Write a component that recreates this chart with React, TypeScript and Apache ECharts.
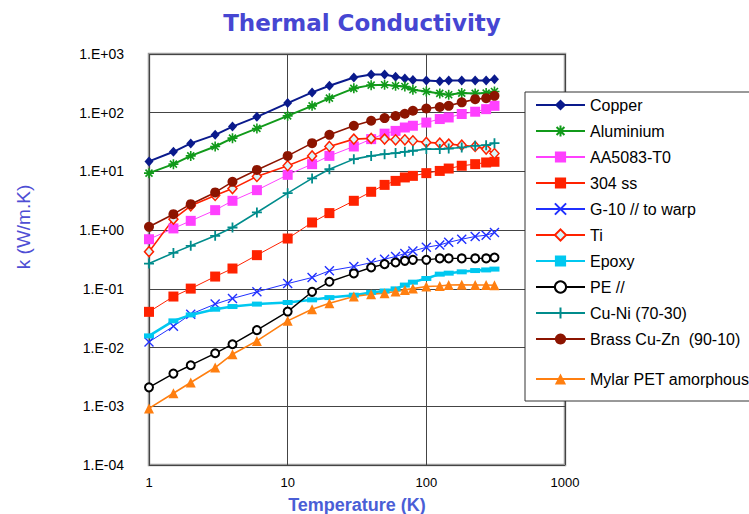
import React, { useEffect, useRef } from "react";
import * as echarts from "echarts";

const TEMPS = [1, 1.5, 2, 3, 4, 6, 10, 15, 20, 30, 40, 50, 60, 70, 80, 100, 125, 145, 180, 225, 270, 310];

const COPPER = [14.8, 21.6, 30, 42, 58, 85, 146, 222, 288, 398, 449, 449, 410, 384, 362, 355, 345, 355, 355, 355, 355, 372];
const ALUMINIUM = [9.35, 13.3, 18.4, 26.6, 36.9, 54, 88.5, 131, 177, 260, 295, 299, 288, 280, 246, 230, 213, 202, 216, 213, 216, 230];
const AA5083 = [0.7, 1.07, 1.44, 2.19, 3.16, 4.8, 8.75, 13.3, 18.4, 26.6, 35.5, 44, 49, 56, 60, 68, 78, 83, 95, 104, 115, 131];
const SS304 = [0.0406, 0.074, 0.101, 0.162, 0.222, 0.375, 0.72, 1.35, 1.95, 3.16, 4.5, 5.9, 6.9, 7.9, 8.4, 9.35, 10.2, 11.2, 12.5, 13.3, 14.2, 14.6];
const G10 = [0.0125, 0.023, 0.037, 0.055, 0.0686, 0.089, 0.123, 0.156, 0.203, 0.24, 0.28, 0.32, 0.356, 0.4, 0.44, 0.51, 0.56, 0.62, 0.7, 0.78, 0.82, 0.91];
const TI = [0.43, 1.54, 2.6, 3.9, 5.1, 8.2, 12.5, 18.4, 26.6, 35.5, 36.5, 35.5, 34.6, 34.6, 33.3, 31.2, 30.3, 29.2, 28, 26.6, 24, 20.2];
const EPOXY = [0.0158, 0.0285, 0.036, 0.045, 0.05, 0.055, 0.0586, 0.065, 0.071, 0.078, 0.087, 0.092, 0.1, 0.116, 0.13, 0.15, 0.178, 0.185, 0.195, 0.205, 0.21, 0.217];
const PE = [0.0021, 0.0036, 0.005, 0.008, 0.0114, 0.0198, 0.041, 0.089, 0.132, 0.183, 0.231, 0.264, 0.281, 0.3, 0.312, 0.312, 0.33, 0.33, 0.33, 0.33, 0.33, 0.342];
const CUNI = [0.27, 0.41, 0.54, 0.8, 1.11, 2.0, 4.27, 7.6, 10.9, 16.2, 18.4, 19.7, 20.5, 21.6, 22.5, 24, 24, 24.6, 25.6, 27.3, 28, 30.3];
const BRASS = [1.14, 1.87, 2.77, 4.39, 6.65, 10.6, 18.4, 30.3, 42, 60, 73, 81, 88, 96, 108, 118, 125, 131, 150, 170, 177, 194];
const MYLAR = [0.00092, 0.00167, 0.00254, 0.00457, 0.0077, 0.013, 0.0285, 0.045, 0.057, 0.074, 0.081, 0.0845, 0.09, 0.096, 0.101, 0.11, 0.112, 0.116, 0.117, 0.116, 0.116, 0.115];

const X_TICKS = ["1", "10", "100", "1000"];

const ASTERISK = "path://M5,0L5,10M0,5L10,5M1.5,1.5L8.5,8.5M1.5,8.5L8.5,1.5";
const CROSS = "path://M0,0L10,10M0,10L10,0";
const PLUS = "path://M5,0L5,10M0,5L10,5";

const pairs = (vals: number[]) => TEMPS.map((t, i) => [t, vals[i]]);

export default function App() {
  const ref = useRef<HTMLDivElement>(null);
  useEffect(() => {
    if (!ref.current) return;
    const chart = echarts.init(ref.current, undefined, { renderer: "svg" });
    const font = "Liberation Sans";
    const mk = (
      name: string,
      vals: number[],
      color: string,
      symbol: string,
      size: number | number[],
      lw: number,
      item: any = {}
    ) => ({
      name,
      type: "line",
      data: pairs(vals),
      symbol,
      symbolSize: size,
      showSymbol: true,
      lineStyle: { color, width: lw },
      itemStyle: { color, ...item },
      emphasis: { disabled: true },
    });
    const series = [
      mk("Copper", COPPER, "#0a1a8c", "diamond", [9, 10], 2),
      mk("Aluminium", ALUMINIUM, "#119a1a", ASTERISK, 10, 2, { color: "#119a1a", borderColor: "#119a1a", borderWidth: 1.6 }),
      mk("AA5083-T0", AA5083, "#ff40ff", "rect", 10, 1),
      mk("304 ss", SS304, "#ff2200", "rect", 10, 1),
      mk("G-10 // to warp", G10, "#2030ff", CROSS, 9, 1, { color: "#2030ff", borderColor: "#2030ff", borderWidth: 1.4 }),
      mk("Ti", TI, "#ff2200", "diamond", [9, 10], 1.6, { color: "#d8f6fa", borderColor: "#ff2200", borderWidth: 1.5 }),
      mk("Epoxy", EPOXY, "#00c8f0", "rect", [10, 5], 2.5),
      mk("PE //", PE, "#000000", "emptyCircle", 8, 1.4, { borderWidth: 1.4 }),
      mk("Cu-Ni (70-30)", CUNI, "#008c8c", PLUS, 10, 1.6, { color: "#008c8c", borderColor: "#008c8c", borderWidth: 1.8 }),
      mk("Brass Cu-Zn  (90-10)", BRASS, "#8c1400", "circle", 10, 1.6),
      mk("Mylar PET amorphous", MYLAR, "#ff7f10", "triangle", 10, 1.6),
    ];
    const legendBase = {
      orient: "vertical",
      left: 535,
      padding: 0,
      itemWidth: 49,
      itemHeight: 14,
      itemGap: 10,
      z: 20,
      textStyle: { fontFamily: font, fontSize: 16, color: "#000" },
    };
    const option: any = {
      animation: false,
      backgroundColor: "#fff",
      title: {
        text: "Thermal Conductivity",
        left: 357,
        textAlign: "center",
        top: 6,
        textStyle: { fontFamily: "DejaVu Sans", fontWeight: "bold", fontSize: 23, color: "#4646d2" },
      },
      grid: {
        left: 149,
        top: 54,
        right: 184,
        bottom: 49,
        containLabel: false,
        outerBoundsMode: "none",
        show: true,
        borderColor: "#9a9a9a",
        borderWidth: 2.5,
        backgroundColor: "transparent",
      },
      legend: [
        { ...legendBase, top: 97, data: series.slice(0, 10).map((s) => s.name) },
        { ...legendBase, top: 371, data: [series[10].name] },
      ],
      graphic: [
        {
          type: "rect",
          z: 10,
          shape: { x: 525, y: 92, width: 260, height: 309 },
          style: { fill: "#fff", stroke: "#333", lineWidth: 1 },
        },
        {
          type: "text",
          z: 10,
          x: 23,
          y: 227,
          rotation: Math.PI / 2,
          style: {
            text: "k (W/m.K)",
            fontFamily: font,
            fontSize: 19,
            fill: "#4e4ed4",
            align: "center",
            verticalAlign: "middle",
          },
        },
      ],
      xAxis: {
        type: "log",
        logBase: 10,
        min: 1,
        max: 1000,
        name: "Temperature (K)",
        nameLocation: "middle",
        nameGap: 31,
        nameTextStyle: { fontFamily: font, fontWeight: "bold", fontSize: 18, color: "#4a5ed6" },
        axisLine: { show: false },
        axisTick: { show: false },
        axisLabel: {
          fontFamily: font,
          fontSize: 13,
          color: "#000",
          margin: 11,
          formatter: (v: number) => X_TICKS[Math.round(Math.log10(v))] ?? "",
        },
        splitLine: { show: true, lineStyle: { color: "#444", width: 1 } },
      },
      yAxis: {
        type: "log",
        logBase: 10,
        min: 0.0001,
        max: 1000,
        splitNumber: 7,
        axisLine: { show: false },
        axisTick: { show: false },
        axisLabel: {
          fontFamily: font,
          fontSize: 14,
          color: "#000",
          margin: 25,
          formatter: (v: number) => {
            const e = Math.round(Math.log10(v));
            return "1.E" + (e >= 0 ? "+" : "-") + String(Math.abs(e)).padStart(2, "0");
          },
        },
        splitLine: { show: true, lineStyle: { color: "#444", width: 1 } },
      },
      series,
    };
    chart.setOption(option);
    return () => chart.dispose();
  }, []);
  return <div ref={ref} style={{ position: "fixed", left: 0, top: 0, width: 749, height: 514 }} />;
}
